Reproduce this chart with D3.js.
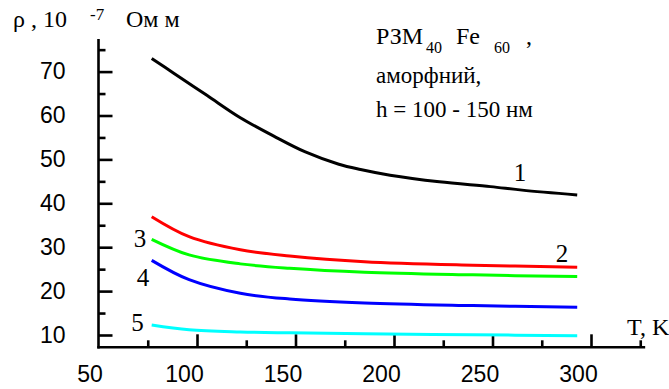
<!DOCTYPE html>
<html>
<head>
<meta charset="utf-8">
<script src="https://cdn.jsdelivr.net/npm/d3@7"></script>
<style>
  body { margin: 0; background: #fff; }
  svg { display: block; }
  .serif { font-family: "Liberation Serif", "DejaVu Serif", serif; }
  .sans { font-family: "Liberation Sans", "DejaVu Sans", sans-serif; }
</style>
</head>
<body>
<svg id="chart" width="669" height="389"></svg>
<script>
// curve 1 (black)
const t1 = [77, 88, 105, 122, 139, 155, 172, 183, 198, 223, 249, 265, 293];
const rho1 = [73.0, 69.7, 64.6, 59.5, 55.3, 51.7, 48.9, 47.7, 46.4, 44.9, 43.8, 43.0, 41.9];
// curves 2..5 share these temperatures
const tLow = [77, 96, 122, 147, 185, 240, 293];
const rho2 = [36.95, 32.4, 29.4, 28.0, 26.7, 25.9, 25.45];
const rho3 = [31.8, 28.25, 26.2, 25.2, 24.3, 23.7, 23.3];
const rho4 = [27.0, 22.6, 19.5, 18.2, 17.3, 16.7, 16.3];
const rho5 = [12.3, 11.2, 10.7, 10.5, 10.3, 10.05, 9.85];

const xTicks = [50, 100, 150, 200, 250, 300];
const xMinor = [75, 125, 175, 225, 275, 325];
const yTicks = [10, 20, 30, 40, 50, 60, 70];
const yMinor = [15, 25, 35, 45, 55, 65, 75];

const svg = d3.select("#chart");

const x = d3.scaleLinear().domain([50, 300]).range([98.5, 591]);
const y = d3.scaleLinear().domain([10, 70]).range([335, 71.6]);

const xEnd = x(327.5);
const yBottom = 347.3;
const yTop = 39;

// axis lines
svg.append("line")
  .attr("x1", x(50)).attr("x2", x(50))
  .attr("y1", yTop).attr("y2", yBottom + 1.2)
  .attr("stroke", "#000").attr("stroke-width", 2.6);
svg.append("line")
  .attr("x1", x(50) - 1.2).attr("x2", xEnd)
  .attr("y1", yBottom).attr("y2", yBottom)
  .attr("stroke", "#000").attr("stroke-width", 2.6);

// y axis ticks (inside) + labels
const gy = svg.append("g")
  .attr("transform", `translate(${x(50)},0)`)
  .call(d3.axisLeft(y).tickValues(yTicks).tickSizeInner(-14).tickSizeOuter(0).tickPadding(33));
gy.select(".domain").remove();
gy.selectAll("line").attr("stroke-width", 2.6);
gy.attr("font-family", null).attr("font-size", null);
gy.selectAll("text").attr("class", "sans").style("font-size", "23px").attr("fill", "#000");

const gyMinor = svg.append("g")
  .attr("transform", `translate(${x(50)},0)`)
  .call(d3.axisLeft(y).tickValues(yMinor).tickSizeInner(-7).tickSizeOuter(0).tickFormat(""));
gyMinor.select(".domain").remove();
gyMinor.selectAll("line").attr("stroke-width", 2.6);

// x axis ticks (inside) + labels
const gx = svg.append("g")
  .attr("transform", `translate(0,${yBottom})`)
  .call(d3.axisBottom(x).tickValues(xTicks).tickSizeInner(-13).tickSizeOuter(0).tickPadding(18));
gx.select(".domain").remove();
gx.attr("font-family", null).attr("font-size", null);
gx.selectAll("line").attr("stroke-width", 2.6);
gx.selectAll(".tick").filter(d => d === 50).select("line").remove();
gx.selectAll("text").attr("class", "sans").style("font-size", "23px").attr("fill", "#000")
  .attr("dx", d => d === 50 ? -9 : -13);

const gxMinor = svg.append("g")
  .attr("transform", `translate(0,${yBottom})`)
  .call(d3.axisBottom(x).tickValues(xMinor).tickSizeInner(-7).tickSizeOuter(0).tickFormat(""));
gxMinor.select(".domain").remove();
gxMinor.selectAll("line").attr("stroke-width", 2.6);

// curves
const line = d3.line()
  .x(d => x(d[0]))
  .y(d => y(d[1]))
  .curve(d3.curveCatmullRom.alpha(0.5));

const series = [
  { t: t1, v: rho1, color: "#000000" },
  { t: tLow, v: rho2, color: "#ff0000" },
  { t: tLow, v: rho3, color: "#00ff00" },
  { t: tLow, v: rho4, color: "#0000ff" },
  { t: tLow, v: rho5, color: "#00ffff" }
];

svg.append("g").selectAll("path")
  .data(series)
  .join("path")
    .attr("d", s => line(s.t.map((t, i) => [t, s.v[i]])))
    .attr("fill", "none")
    .attr("stroke", s => s.color)
    .attr("stroke-width", 3);

// curve numbers
const curveLabels = [
  { text: "1", cx: 520, cy: 172 },
  { text: "2", cx: 562, cy: 253.5 },
  { text: "3", cx: 140, cy: 238 },
  { text: "4", cx: 143, cy: 277 },
  { text: "5", cx: 137.5, cy: 322 }
];
svg.append("g").selectAll("text")
  .data(curveLabels)
  .join("text")
    .attr("class", "serif")
    .attr("x", d => d.cx)
    .attr("y", d => d.cy)
    .attr("dy", "0.34em")
    .attr("text-anchor", "middle")
    .style("font-size", "25px")
    .text(d => d.text);

// y axis title
svg.append("text").attr("class", "serif")
  .attr("x", 13).attr("y", 27)
  .style("font-size", "24px")
  .text("ρ , 10");
svg.append("text").attr("class", "serif")
  .attr("x", 90).attr("y", 20)
  .style("font-size", "17px")
  .text("-7");
svg.append("text").attr("class", "serif")
  .attr("x", 126).attr("y", 27)
  .style("font-size", "24px")
  .text("Ом м");

// x axis title
svg.append("text").attr("class", "serif")
  .attr("x", 627).attr("y", 335)
  .style("font-size", "24px")
  .text("T, K");

// annotation
const note = [
  { text: "РЗМ", x: 376, y: 43.5, size: 24 },
  { text: "40", x: 426, y: 53, size: 16 },
  { text: "Fe", x: 456, y: 43.5, size: 24 },
  { text: "60", x: 494, y: 53, size: 16 },
  { text: ",", x: 526, y: 43.5, size: 24 },
  { text: "аморфний,", x: 376, y: 83, size: 23 },
  { text: "h = 100 - 150 нм", x: 376, y: 117, size: 23 }
];
svg.append("g").selectAll("text")
  .data(note)
  .join("text")
    .attr("class", "serif")
    .attr("x", d => d.x)
    .attr("y", d => d.y)
    .style("font-size", d => d.size + "px")
    .text(d => d.text);
</script>
</body>
</html>
